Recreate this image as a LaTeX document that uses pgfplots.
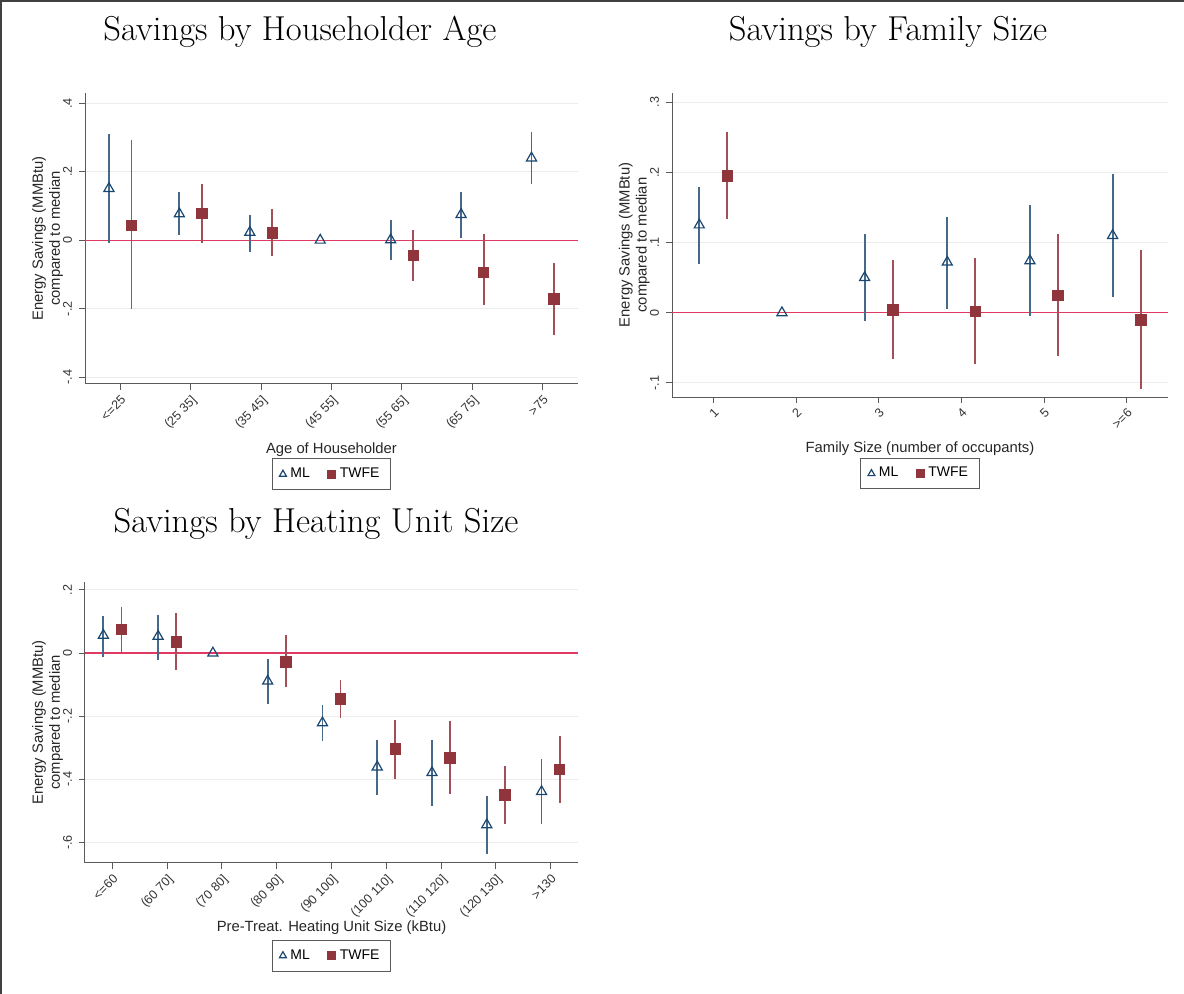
\documentclass[border=0pt]{standalone}
\usepackage{pgfplots}
\pgfplotsset{compat=1.18}
\usepackage{pgfplotstable}
\usepackage{fontspec}
\setsansfont{Liberation Sans}

\definecolor{mlnavy}{HTML}{1A476F}
\definecolor{mlci}{HTML}{46688A}
\definecolor{twmaroon}{HTML}{90353B}
\definecolor{twci}{HTML}{A44F57}
\definecolor{zerored}{HTML}{E03A62}
\definecolor{gridgray}{HTML}{ECECEC}
\definecolor{axgray}{HTML}{5A5A5A}

% columns: category position, estimate, lower and upper bound of the interval
\pgfplotstableread{
x y lo hi
1 0.151 -0.007 0.309
2 0.077 0.015 0.140
3 0.023 -0.034 0.075
4 0.000 0.000 0.000
5 0.001 -0.057 0.058
6 0.075 0.007 0.140
7 0.240 0.165 0.316
}\ageml
\pgfplotstableread{
x y lo hi
1 0.043 -0.201 0.292
2 0.078 -0.007 0.165
3 0.021 -0.046 0.092
5 -0.045 -0.120 0.031
6 -0.094 -0.188 0.019
7 -0.172 -0.276 -0.066
}\agetw
\pgfplotstableread{
x y lo hi
1 0.125 0.069 0.179
2 0.000 0.000 0.000
3 0.050 -0.012 0.112
4 0.072 0.006 0.137
5 0.074 -0.005 0.153
6 0.110 0.023 0.197
}\famml
\pgfplotstableread{
x y lo hi
1 0.195 0.134 0.258
3 0.004 -0.066 0.075
4 0.002 -0.073 0.078
5 0.025 -0.061 0.112
6 -0.010 -0.109 0.089
}\famtw
\pgfplotstableread{
x y lo hi
1 0.056 -0.011 0.118
2 0.053 -0.021 0.122
3 0.000 0.000 0.000
4 -0.089 -0.161 -0.019
5 -0.221 -0.279 -0.166
6 -0.361 -0.449 -0.274
7 -0.379 -0.484 -0.274
8 -0.544 -0.635 -0.453
9 -0.439 -0.540 -0.335
}\heatml
\pgfplotstableread{
x y lo hi
1 0.074 0.000 0.147
2 0.035 -0.053 0.126
4 -0.028 -0.108 0.057
5 -0.145 -0.207 -0.084
6 -0.304 -0.398 -0.211
7 -0.332 -0.445 -0.215
8 -0.449 -0.540 -0.358
9 -0.368 -0.474 -0.263
}\heattw

\pgfplotsset{
  coefpanel/.style={
    scale only axis,
    axis x line*=bottom,
    axis y line*=left,
    axis line style={axgray, line width=0.5pt},
    tick style={axgray, line width=0.5pt},
    tick align=outside,
    major tick length=3pt,
    ymajorgrids,
    grid style={gridgray, line width=0.5pt},
    every tick label/.append style={font=\sffamily\fontsize{6.3}{7.3}\selectfont, text=black!80},
    yticklabel style={rotate=90, anchor=south},
    xticklabel style={rotate=45, anchor=north east, inner sep=1.5pt},
    label style={font=\sffamily\fontsize{7.4}{8.4}\selectfont, text=black!85},
    ylabel={Energy Savings (MMBtu)\\compared to median},
    ylabel style={align=center, at={(axis description cs:-0.076,0.5)}, anchor=center},
    legend columns=2,
    legend cell align=left,
    legend image code/.code={\draw[##1, mark size=2pt] plot coordinates {(0.12cm,0cm)};},
    legend style={draw=axgray, line width=0.5pt, font=\sffamily\fontsize{7}{8}\selectfont,
      inner xsep=3.5pt, inner ysep=2.5pt, anchor=center,
      /tikz/every even column/.append style={column sep=7pt}},
  },
  mlpts/.style={only marks, mark=triangle, mark size=2.9pt,
    mark options={draw=mlnavy, fill=white, line width=0.6pt},
    error bars/.cd, y dir=both, y explicit, error mark=none,
    error bar style={mlci, line width=0.9pt}},
  twpts/.style={only marks, mark=square*, mark size=2.6pt,
    mark options={draw=twmaroon, fill=twmaroon},
    error bars/.cd, y dir=both, y explicit, error mark=none,
    error bar style={twci, line width=0.9pt}},
  refline/.style={zerored, line width=0.7pt, forget plot},
}

\begin{document}
\begin{tikzpicture}
\useasboundingbox (0,0) rectangle (592pt,-497pt);
% page frame
\draw[black!75, line width=0.7pt] (0.5pt,-497pt) -- (0.5pt,-0.6pt) -- (592pt,-0.6pt);

% titles
\node[font=\fontsize{17.3}{20}\selectfont] at (150pt,-16pt) {Savings by Householder Age};
\node[font=\fontsize{17.3}{20}\selectfont] at (444pt,-16pt) {Savings by Family Size};
\node[font=\fontsize{17.3}{20}\selectfont] at (158pt,-262pt) {Savings by Heating Unit Size};

% householder age
\begin{axis}[coefpanel,
  at={(42.5pt,-46.5pt)}, anchor=north west,
  width=246.5pt, height=145.5pt,
  xmin=0.5, xmax=7.5, ymin=-0.42, ymax=0.43,
  ytick={-0.4,-0.2,0,0.2,0.4}, yticklabels={-.4,-.2,0,.2,.4},
  xtick={1,...,7},
  xticklabels={{<=25},{(25 35]},{(35 45]},{(45 55]},{(55 65]},{(65 75]},{>75}},
  xlabel={Age of Householder},
  xlabel style={at={(axis description cs:0.5,-0.225)}, anchor=center},
  legend style={at={(0.5,-0.31)}},
]
\addplot[refline] coordinates {(0.5,0) (7.5,0)};
\addplot[mlpts] table[x expr=\thisrow{x}-0.16, y=y,
  y error plus expr=\thisrow{hi}-\thisrow{y},
  y error minus expr=\thisrow{y}-\thisrow{lo}] {\ageml};
\addplot[twpts] table[x expr=\thisrow{x}+0.16, y=y,
  y error plus expr=\thisrow{hi}-\thisrow{y},
  y error minus expr=\thisrow{y}-\thisrow{lo}] {\agetw};
\legend{ML,TWFE}
\end{axis}

% family size
\begin{axis}[coefpanel,
  at={(336pt,-46.5pt)}, anchor=north west,
  width=248pt, height=152pt,
  xmin=0.5, xmax=6.5, ymin=-0.12, ymax=0.313,
  ytick={-0.1,0,0.1,0.2,0.3}, yticklabels={-.1,0,.1,.2,.3},
  xtick={1,...,6},
  xticklabels={1,2,3,4,5,{>=6}},
  xlabel={Family Size (number of occupants)},
  xlabel style={at={(axis description cs:0.5,-0.17)}, anchor=center},
  legend style={at={(0.5,-0.252)}},
]
\addplot[refline] coordinates {(0.5,0) (6.5,0)};
\addplot[mlpts] table[x expr=\thisrow{x}-0.17, y=y,
  y error plus expr=\thisrow{hi}-\thisrow{y},
  y error minus expr=\thisrow{y}-\thisrow{lo}] {\famml};
\addplot[twpts] table[x expr=\thisrow{x}+0.17, y=y,
  y error plus expr=\thisrow{hi}-\thisrow{y},
  y error minus expr=\thisrow{y}-\thisrow{lo}] {\famtw};
\legend{ML,TWFE}
\end{axis}

% heating unit size
\begin{axis}[coefpanel,
  at={(42.5pt,-291pt)}, anchor=north west,
  width=246.5pt, height=140.5pt,
  xmin=0.5, xmax=9.5, ymin=-0.665, ymax=0.225,
  ytick={-0.6,-0.4,-0.2,0,0.2}, yticklabels={-.6,-.4,-.2,0,.2},
  xtick={1,...,9},
  xticklabels={{<=60},{(60 70]},{(70 80]},{(80 90]},{(90 100]},{(100 110]},{(110 120]},{(120 130]},{>130}},
  xlabel={Pre-Treat. Heating Unit Size (kBtu)},
  xlabel style={at={(axis description cs:0.5,-0.232)}, anchor=center},
  legend style={at={(0.5,-0.33)}},
]
\addplot[refline] coordinates {(0.5,0) (9.5,0)};
\addplot[mlpts] table[x expr=\thisrow{x}-0.165, y=y,
  y error plus expr=\thisrow{hi}-\thisrow{y},
  y error minus expr=\thisrow{y}-\thisrow{lo}] {\heatml};
\addplot[twpts] table[x expr=\thisrow{x}+0.165, y=y,
  y error plus expr=\thisrow{hi}-\thisrow{y},
  y error minus expr=\thisrow{y}-\thisrow{lo}] {\heattw};
\legend{ML,TWFE}
\end{axis}
\end{tikzpicture}
\end{document}
